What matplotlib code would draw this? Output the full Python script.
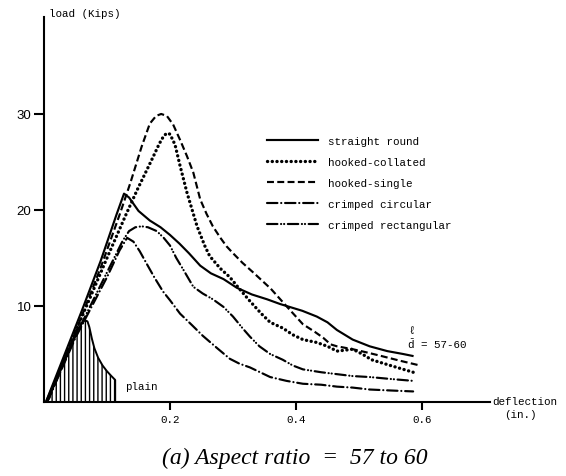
import matplotlib
matplotlib.use("Agg")
import matplotlib.pyplot as plt

# ---------------- data ----------------
straight_x = [0.003, 0.03, 0.06, 0.09, 0.115, 0.127, 0.135, 0.15, 0.168, 0.185,
              0.2, 0.215, 0.23, 0.248, 0.265, 0.285, 0.306, 0.33, 0.354, 0.375,
              0.39, 0.41, 0.433, 0.45, 0.465, 0.49, 0.517, 0.545, 0.57, 0.585]
straight_y = [0, 4.5, 9.5, 14.7, 19.5, 21.7, 21.3, 19.9, 18.9, 18.2,
              17.4, 16.5, 15.5, 14.2, 13.4, 12.8, 11.9, 11.2, 10.7, 10.2,
              9.9, 9.5, 8.9, 8.3, 7.5, 6.5, 5.8, 5.3, 5.0, 4.8]

collated_x = [0.005, 0.05, 0.1, 0.13, 0.148, 0.162, 0.173, 0.183, 0.19, 0.195,
              0.2, 0.208, 0.216, 0.227, 0.243, 0.255, 0.263, 0.28, 0.295, 0.31,
              0.327, 0.345, 0.359, 0.379, 0.395, 0.411, 0.433, 0.45, 0.465, 0.478,
              0.49, 0.505, 0.52, 0.55, 0.586]
collated_y = [0, 7.3, 15.0, 19.5, 22.1, 24.0, 25.5, 26.9, 27.7, 28.0,
              27.9, 26.8, 24.6, 21.8, 18.3, 16.3, 15.2, 13.9, 13.0, 11.8,
              10.5, 9.2, 8.3, 7.7, 7.0, 6.5, 6.2, 5.8, 5.3, 5.4,
              5.5, 5.0, 4.4, 3.8, 3.1]

single_x = [0.005, 0.05, 0.09, 0.12, 0.137, 0.155, 0.168, 0.178, 0.186, 0.195,
            0.205, 0.216, 0.227, 0.237, 0.248, 0.258, 0.268, 0.28, 0.29, 0.3,
            0.315, 0.332, 0.36, 0.386, 0.411, 0.43, 0.443, 0.455, 0.465, 0.49,
            0.51, 0.535, 0.565, 0.597]
single_y = [0, 7.3, 14.0, 19.5, 22.8, 26.6, 29.0, 29.8, 30.0, 29.8,
            28.9, 27.3, 25.6, 23.9, 21.1, 19.6, 18.3, 17.1, 16.2, 15.5,
            14.5, 13.5, 11.8, 9.9, 8.1, 7.3, 6.7, 6.0, 5.8, 5.5,
            5.2, 4.8, 4.3, 3.8]

circ_x = [0.005, 0.05, 0.1, 0.12, 0.132, 0.142, 0.152, 0.163, 0.175, 0.189,
          0.2, 0.216, 0.235, 0.252, 0.275, 0.295, 0.31, 0.327, 0.359, 0.385,
          0.411, 0.44, 0.465, 0.49, 0.517, 0.55, 0.586]
circ_y = [0, 6.7, 13.0, 15.8, 17.1, 16.7, 15.7, 14.4, 13.0, 11.5,
          10.6, 9.2, 8.0, 6.9, 5.6, 4.5, 4.0, 3.6, 2.6, 2.2,
          1.9, 1.8, 1.6, 1.5, 1.3, 1.2, 1.1]

rect_x = [0.005, 0.05, 0.1, 0.125, 0.135, 0.145, 0.155, 0.165, 0.179, 0.19,
          0.2, 0.21, 0.221, 0.237, 0.252, 0.268, 0.285, 0.3, 0.315, 0.327,
          0.342, 0.359, 0.379, 0.395, 0.411, 0.44, 0.465, 0.49, 0.517, 0.55,
          0.586]
rect_y = [0, 6.9, 13.5, 16.8, 17.8, 18.2, 18.3, 18.2, 17.8, 17.1,
          16.3, 15.0, 13.8, 12.0, 11.3, 10.7, 9.9, 8.9, 7.7, 6.8,
          5.8, 5.0, 4.4, 3.8, 3.4, 3.1, 2.9, 2.7, 2.6, 2.4,
          2.2]

plain_x = [0.003, 0.02, 0.04, 0.055, 0.06, 0.065, 0.069, 0.072, 0.076, 0.08,
           0.086, 0.093, 0.1, 0.107, 0.113]
plain_y = [0, 2.6, 5.6, 7.7, 8.2, 8.5, 8.4, 7.8, 6.6, 5.6,
           4.6, 3.8, 3.2, 2.7, 2.3]

labels = ["straight round", "hooked-collated", "hooked-single",
          "crimped circular", "crimped rectangular"]
x_ticks = [0.2, 0.4, 0.6]
x_ticklabels = ["0.2", "0.4", "0.6"]
y_ticks = [10, 20, 30]
y_ticklabels = ["10", "20", "30"]

# ---------------- styling ----------------
plt.rcParams['lines.scale_dashes'] = False
MONO = ['Liberation Mono', 'DejaVu Sans Mono']
FS = 7.8

fig = plt.figure(figsize=(5.66, 4.77), dpi=100)
W, H = 566, 477
ax = fig.add_axes([44 / W, 1 - 403 / H, (490 - 44) / W, (403 - 18) / H])
ax.set_xlim(0, 0.708)
ax.set_ylim(0, 40.1)

lw = 1.55
h1, = ax.plot(straight_x, straight_y, color='black', lw=lw, ls='-')
h2, = ax.plot(collated_x, collated_y, color='black', lw=2.4,
              ls=(0, (0.1, 3.3)), dash_capstyle='round')
h3, = ax.plot(single_x, single_y, color='black', lw=lw, ls=(0, (5, 2.4)))
h4, = ax.plot(circ_x, circ_y, color='black', lw=lw,
              ls=(0, (7.5, 2.7, 0.1, 2.7)), dash_capstyle='round')
h5, = ax.plot(rect_x, rect_y, color='black', lw=lw,
              ls=(0, (7.5, 2.6, 0.1, 2.1, 0.1, 2.6)), dash_capstyle='round')

ax.fill_between(plain_x, 0, plain_y, facecolor='none', edgecolor='black',
                hatch='||||', linewidth=1.4)

for s in ['top', 'right']:
    ax.spines[s].set_visible(False)
for s in ['left', 'bottom']:
    ax.spines[s].set_linewidth(1.5)

ax.set_xticks(x_ticks)
ax.set_xticklabels(x_ticklabels, fontfamily=MONO, fontsize=FS)
ax.set_yticks(y_ticks)
ax.set_yticklabels(y_ticklabels, fontfamily='Liberation Sans', fontsize=9.5)
ax.tick_params(axis='x', direction='out', length=6, width=1.5, pad=3)
ax.tick_params(axis='y', direction='out', length=7, width=1.5, pad=2)

leg = ax.legend([h1, h2, h3, h4, h5], labels, loc='upper left',
                bbox_to_anchor=(267 / W, 1 - 137 / H),
                bbox_transform=fig.transFigure, frameon=False,
                prop={'family': MONO, 'size': FS}, handlelength=4.7,
                handletextpad=0.9, labelspacing=1.02, borderpad=0,
                borderaxespad=0)

# annotations
ax.text(0.129, 1.65, "plain", fontfamily=MONO, fontsize=FS, va='center', ha='left')
ax.text(0.578, 6.8, "\u2113\n-\nd = 57-60", fontfamily=MONO, fontsize=FS,
        va='center', ha='left', multialignment='left', linespacing=0.62)

fig.text(492 / W, 1 - 402 / H, "deflection", fontfamily=MONO, fontsize=FS,
         va='center', ha='left')
fig.text(520 / W, 1 - 415 / H, "(in.)", fontfamily=MONO, fontsize=FS,
         va='center', ha='center')
fig.text(49 / W, 1 - 14 / H, "load (Kips)", fontfamily=MONO, fontsize=FS,
         va='center', ha='left')
fig.text(295 / W, 1 - 458 / H, "(a) Aspect ratio  =  57 to 60",
         fontfamily='Liberation Serif', fontstyle='italic', fontsize=17,
         va='center', ha='center')

fig.savefig("out.png", dpi=100)
